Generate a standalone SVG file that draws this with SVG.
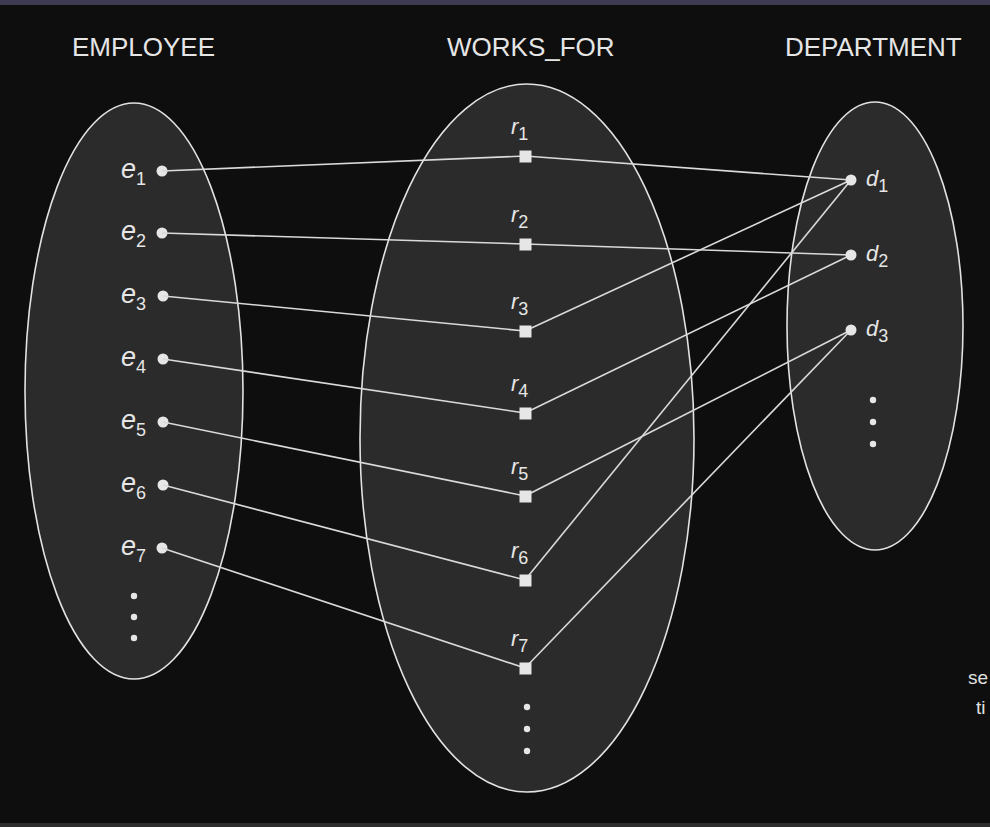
<svg xmlns="http://www.w3.org/2000/svg" width="990" height="827" viewBox="0 0 990 827">
<style>
.set{fill:#2b2b2b;stroke:#e2e2e2;stroke-width:1.6}
.hdr{font-family:"Liberation Sans",Arial,sans-serif;font-size:26px;fill:#e6e6e6}
.lbl{font-family:"Liberation Sans",Arial,sans-serif;fill:#e6e6e6;font-style:italic}
.sub{font-style:normal}
.dot{fill:#e6e6e6}
.sq{fill:#e6e6e6}
.ln{stroke:#dadada;stroke-width:1.6;fill:none}
.side{font-family:"Liberation Sans",Arial,sans-serif;font-size:19px;fill:#e0e0e0}
</style>
<rect width="990" height="827" fill="#0e0e0e"/>
<rect width="990" height="5" fill="#3e3a52"/>
<rect y="823" width="990" height="4" fill="#2e2e2e"/>
<text class="hdr" x="72" y="56">EMPLOYEE</text>
<text class="hdr" x="447" y="56">WORKS_FOR</text>
<text class="hdr" x="785" y="56">DEPARTMENT</text>
<text class="side" x="968" y="684">se</text>
<text class="side" x="976" y="714">ti</text>
<g id="employee">
<ellipse class="set" cx="134" cy="391" rx="109" ry="288"/>
<g class="lbl" font-size="27">
<text x="121" y="178">e<tspan class="sub" font-size="18" dy="7">1</tspan></text>
<text x="121" y="240">e<tspan class="sub" font-size="18" dy="7">2</tspan></text>
<text x="121" y="303">e<tspan class="sub" font-size="18" dy="7">3</tspan></text>
<text x="121" y="366">e<tspan class="sub" font-size="18" dy="7">4</tspan></text>
<text x="121" y="429">e<tspan class="sub" font-size="18" dy="7">5</tspan></text>
<text x="121" y="492">e<tspan class="sub" font-size="18" dy="7">6</tspan></text>
<text x="121" y="555">e<tspan class="sub" font-size="18" dy="7">7</tspan></text>
</g>
<circle class="dot" cx="162" cy="171" r="5.5"/>
<circle class="dot" cx="162" cy="233" r="5.5"/>
<circle class="dot" cx="163" cy="296" r="5.5"/>
<circle class="dot" cx="163" cy="359" r="5.5"/>
<circle class="dot" cx="163" cy="422" r="5.5"/>
<circle class="dot" cx="163" cy="485" r="5.5"/>
<circle class="dot" cx="162" cy="548" r="5.5"/>
<circle class="dot" cx="134" cy="596" r="3.2"/>
<circle class="dot" cx="134" cy="617" r="3.2"/>
<circle class="dot" cx="134" cy="638" r="3.2"/>
</g>
<g id="works_for">
<ellipse class="set" cx="527" cy="438" rx="167" ry="354"/>
<g class="lbl" font-size="22">
<text x="511" y="134">r<tspan class="sub" font-size="18" dy="6">1</tspan></text>
<text x="511" y="222">r<tspan class="sub" font-size="18" dy="6">2</tspan></text>
<text x="511" y="309">r<tspan class="sub" font-size="18" dy="6">3</tspan></text>
<text x="511" y="391">r<tspan class="sub" font-size="18" dy="6">4</tspan></text>
<text x="511" y="474">r<tspan class="sub" font-size="18" dy="6">5</tspan></text>
<text x="511" y="558">r<tspan class="sub" font-size="18" dy="6">6</tspan></text>
<text x="511" y="646">r<tspan class="sub" font-size="18" dy="6">7</tspan></text>
</g>
<circle class="dot" cx="527" cy="707" r="3.2"/>
<circle class="dot" cx="527" cy="729" r="3.2"/>
<circle class="dot" cx="527" cy="751" r="3.2"/>
</g>
<g id="department">
<ellipse class="set" cx="875" cy="326" rx="88" ry="224"/>
<g class="lbl" font-size="22">
<text x="866" y="186">d<tspan class="sub" font-size="18" dy="6">1</tspan></text>
<text x="866" y="261">d<tspan class="sub" font-size="18" dy="6">2</tspan></text>
<text x="866" y="336">d<tspan class="sub" font-size="18" dy="6">3</tspan></text>
</g>
<circle class="dot" cx="873" cy="400" r="3.2"/>
<circle class="dot" cx="873" cy="422" r="3.2"/>
<circle class="dot" cx="873" cy="444" r="3.2"/>
</g>
<g id="connectors" class="ln">
<line x1="162" y1="171" x2="525" y2="156"/>
<line x1="525" y1="156" x2="851" y2="180"/>
<line x1="162" y1="233" x2="525" y2="244"/>
<line x1="525" y1="244" x2="851" y2="255"/>
<line x1="163" y1="296" x2="525" y2="331"/>
<line x1="525" y1="331" x2="851" y2="180"/>
<line x1="163" y1="359" x2="525" y2="413"/>
<line x1="525" y1="413" x2="851" y2="255"/>
<line x1="163" y1="422" x2="525" y2="496"/>
<line x1="525" y1="496" x2="851" y2="330"/>
<line x1="163" y1="485" x2="525" y2="580"/>
<line x1="525" y1="580" x2="851" y2="180"/>
<line x1="162" y1="548" x2="525" y2="668"/>
<line x1="525" y1="668" x2="851" y2="330"/>
</g>
<g id="relationship-instances">
<rect class="sq" x="519.5" y="150.5" width="12" height="12"/>
<rect class="sq" x="519.5" y="238.5" width="12" height="12"/>
<rect class="sq" x="519.5" y="325.5" width="12" height="12"/>
<rect class="sq" x="519.5" y="407.5" width="12" height="12"/>
<rect class="sq" x="519.5" y="490.5" width="12" height="12"/>
<rect class="sq" x="519.5" y="574.5" width="12" height="12"/>
<rect class="sq" x="519.5" y="662.5" width="12" height="12"/>
</g>
<g id="department-points">
<circle class="dot" cx="851" cy="180" r="5.5"/>
<circle class="dot" cx="851" cy="255" r="5.5"/>
<circle class="dot" cx="851" cy="330" r="5.5"/>
</g>
</svg>
